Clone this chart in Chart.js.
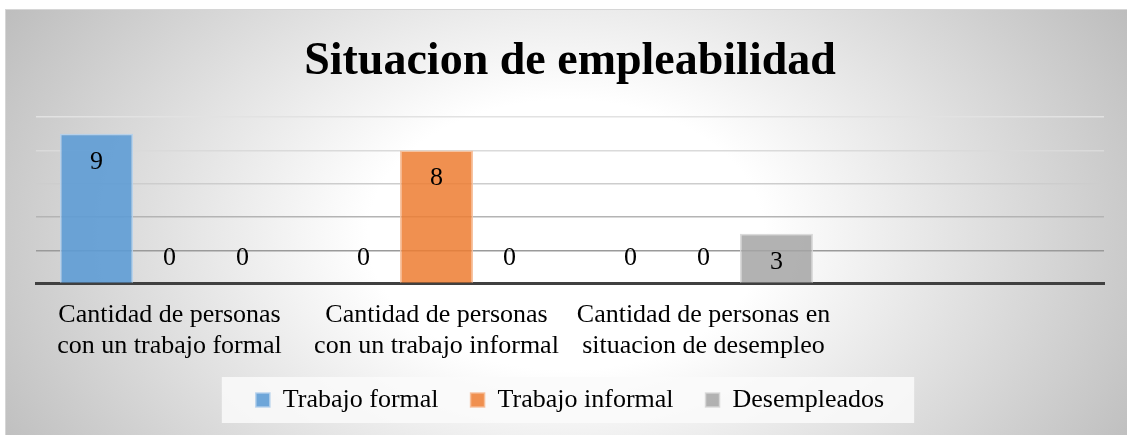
<!DOCTYPE html>
<html>
<head>
<meta charset="utf-8">
<script src="https://cdn.jsdelivr.net/npm/chart.js@4/dist/chart.umd.min.js"></script>
<style>
  html, body { margin: 0; padding: 0; background: #fff; }
  #wrap { width: 1127px; height: 435px; }
</style>
</head>
<body>
<div id="wrap"><canvas id="chart" width="1127" height="435"></canvas></div>
<script>
// chart data
const categories = [
  ['Cantidad de personas', 'con un trabajo formal'],
  ['Cantidad de personas', 'con un trabajo informal'],
  ['Cantidad de personas en', 'situacion de desempleo'],
  ''
]
const trabajoFormal = [9, 0, 0, null]
const trabajoInformal = [0, 8, 0, null]
const desempleados = [0, 0, 3, null]
const yTicks = [0, 2, 4, 6, 8, 10]

const serif = "'Liberation Serif', 'Times New Roman', serif"

// gridlines get darker towards the baseline
const gridColors = {0: 'rgba(0,0,0,0)', 2: '#9a9a9a', 4: '#b4b4b4', 6: '#cdcdcd', 8: '#dadada', 10: '#e2e2e2'}

// the x axis is fitted shorter than its labels so the legend sits closer
const AXIS_OVERLAP = 23

const backgroundPlugin = {
  id: 'background',
  afterLayout(chart) {
    // give the labels their full height back so they are not clipped
    chart.scales.x.bottom += AXIS_OVERLAP
  },
  beforeDraw(chart) {
    const ctx = chart.ctx
    const w = chart.width, h = chart.height
    ctx.save()
    ctx.fillStyle = '#ffffff'
    ctx.fillRect(0, 0, w, h)

    // radial grey-to-white fill of the chart box
    const x0 = 5, y0 = 9
    const cx = 566, cy = 235, rx = 660, ry = 450
    ctx.save()
    ctx.beginPath()
    ctx.rect(x0, y0, w - x0, h - y0)
    ctx.clip()
    ctx.translate(cx, cy)
    ctx.scale(1, ry / rx)
    const g = ctx.createRadialGradient(0, 0, 0, 0, 0, rx)
    g.addColorStop(0, '#ffffff')
    g.addColorStop(0.3, '#ffffff')
    g.addColorStop(1, '#bcbcbc')
    ctx.fillStyle = g
    ctx.fillRect(-cx, -cy * rx / ry, w, h * rx / ry)
    ctx.restore()

    ctx.strokeStyle = '#d6d6d6'
    ctx.lineWidth = 1
    ctx.strokeRect(x0 + 0.5, y0 + 0.5, w, h)

    // light panel behind the legend
    const boxes = chart.legend && chart.legend.legendHitBoxes
    if (boxes && boxes.length) {
      const first = boxes[0], last = boxes[boxes.length - 1]
      const mid = first.top + first.height / 2
      ctx.fillStyle = 'rgba(250,250,250,0.85)'
      ctx.fillRect(first.left - 34, mid - 23, last.left + last.width + 30 - (first.left - 34), 46)
    }
    ctx.restore()
  }
}

const valueLabels = {
  id: 'valueLabels',
  afterDatasetsDraw(chart) {
    const ctx = chart.ctx
    ctx.save()
    ctx.font = '26px ' + serif
    ctx.fillStyle = '#000'
    ctx.textAlign = 'center'
    ctx.textBaseline = 'middle'
    chart.data.datasets.forEach((ds, i) => {
      chart.getDatasetMeta(i).data.forEach((bar, j) => {
        const v = ds.data[j]
        if (v === null || v === undefined) return
        const y = v > 0 ? bar.y + 28 : bar.base - 25
        ctx.fillText(String(v), bar.x, y)
      })
    })
    ctx.restore()
  }
}

const ctx = document.getElementById('chart').getContext('2d')
new Chart(ctx, {
  type: 'bar',
  data: {
    labels: categories,
    datasets: [{
      label: 'Trabajo formal',
      data: trabajoFormal,
      backgroundColor: 'rgba(91,155,213,0.88)',
      borderColor: 'rgba(180,208,236,0.9)',
      borderWidth: 1.5
    }, {
      label: 'Trabajo informal',
      data: trabajoInformal,
      backgroundColor: 'rgba(237,125,49,0.85)',
      borderColor: 'rgba(246,190,152,0.9)',
      borderWidth: 1.5
    }, {
      label: 'Desempleados',
      data: desempleados,
      backgroundColor: 'rgba(165,165,165,0.85)',
      borderColor: 'rgba(215,215,215,0.9)',
      borderWidth: 1.5
    }]
  },
  options: {
    responsive: false,
    animation: false,
    devicePixelRatio: 1,
    layout: {
      padding: {left: 36, right: 23, top: 9, bottom: 12}
    },
    datasets: {
      bar: {categoryPercentage: 0.82, barPercentage: 1}
    },
    scales: {
      x: {
        grid: {display: false, drawTicks: false},
        border: {display: true, color: '#404040', width: 3},
        ticks: {
          color: '#000',
          font: {family: serif, size: 26},
          padding: 16,
          maxRotation: 0,
          autoSkip: false
        },
        afterFit(scale) {
          scale.height -= AXIS_OVERLAP
        }
      },
      y: {
        min: 0,
        max: 10,
        afterBuildTicks(scale) {
          scale.ticks = yTicks.map(v => ({value: v}))
        },
        ticks: {display: false},
        border: {display: false},
        grid: {
          drawTicks: false,
          lineWidth: 1.5,
          color: c => gridColors[c.tick.value] || '#d0d0d0'
        }
      }
    },
    plugins: {
      title: {
        display: true,
        text: 'Situacion de empleabilidad',
        color: '#000',
        font: {family: serif, size: 46, weight: 'bold'},
        padding: {top: 26, bottom: 27}
      },
      legend: {
        position: 'bottom',
        labels: {
          color: '#000',
          font: {family: serif, size: 26},
          boxWidth: 14,
          boxHeight: 14,
          padding: 32
        }
      },
      tooltip: {enabled: false}
    }
  },
  plugins: [backgroundPlugin, valueLabels]
})
</script>
</body>
</html>
